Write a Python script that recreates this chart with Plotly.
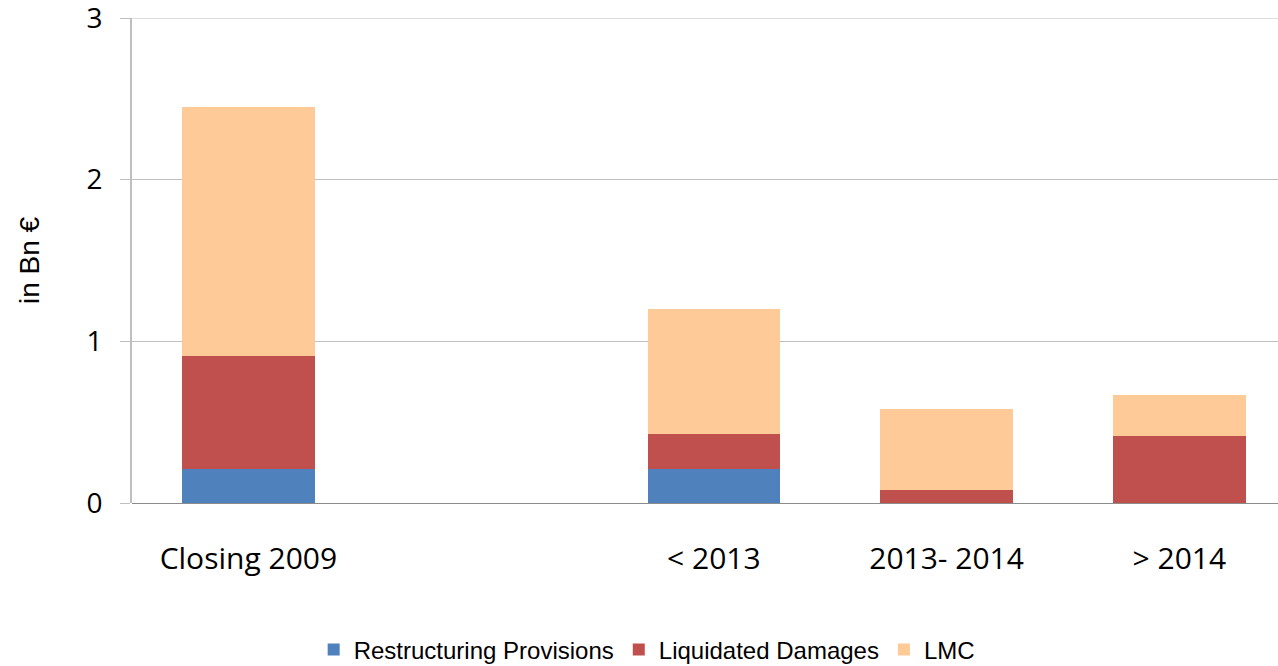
import plotly.graph_objects as go

categories = ["Closing 2009", " ", "< 2013", "2013- 2014", "> 2014"]
restructuring = [0.21, None, 0.21, 0, 0]
liquidated = [0.70, None, 0.217, 0.08, 0.414]
lmc = [1.54, None, 0.773, 0.50, 0.254]
y_ticks = [0, 1, 2, 3]

fig = go.Figure()
fig.add_trace(go.Bar(x=categories, y=restructuring, name="Restructuring Provisions",
                     marker=dict(color="#4f81bd", line=dict(width=0))))
fig.add_trace(go.Bar(x=categories, y=liquidated, name="Liquidated Damages",
                     marker=dict(color="#c0504d", line=dict(width=0))))
fig.add_trace(go.Bar(x=categories, y=lmc, name="LMC",
                     marker=dict(color="#fecb98", line=dict(width=0))))

# top gridline (plotly omits the gridline at the range edge)
fig.add_shape(type="line", xref="paper", yref="y", x0=0, x1=1, y0=y_ticks[-1], y1=y_ticks[-1],
              line=dict(color="#c0c0c0", width=1), layer="below")

fig.update_layout(
    barmode="stack",
    bargap=0.43,
    width=1278, height=666,
    margin=dict(l=132, r=0, t=18, b=163, autoexpand=False),
    plot_bgcolor="white", paper_bgcolor="white",
    legend=dict(orientation="h", xref="container", yref="container",
                x=0.506, xanchor="center", y=0.024, yanchor="middle",
                font=dict(family="Liberation Sans, Arial", size=24, color="#000"),
                traceorder="normal", itemwidth=30),
    xaxis=dict(range=[-0.5, 4.424], showgrid=False, showline=False, automargin=False,
               tickfont=dict(family="Open Sans", size=30, color="#000"),
               ticks="", ticklabelstandoff=35, zeroline=False),
    yaxis=dict(range=[0, 3], tickvals=y_ticks, showgrid=True, gridcolor="#c0c0c0",
               gridwidth=1, showline=True, linecolor="#bfbfbf", linewidth=2,
               ticks="outside", ticklen=10, tickcolor="#bfbfbf", automargin=False,
               zeroline=True, zerolinecolor="#8c8c8c", zerolinewidth=1,
               tickfont=dict(family="Open Sans", size=28, color="#000"),
               ticklabelstandoff=12, ticklabeloverflow="allow",
               title=dict(text="in Bn €", font=dict(family="Liberation Sans, Arial", size=28, color="#000"),
                          standoff=39)),
)

fig.write_html("out.html", post_script="document.body.style.margin='0';",
               config={"displayModeBar": False})
